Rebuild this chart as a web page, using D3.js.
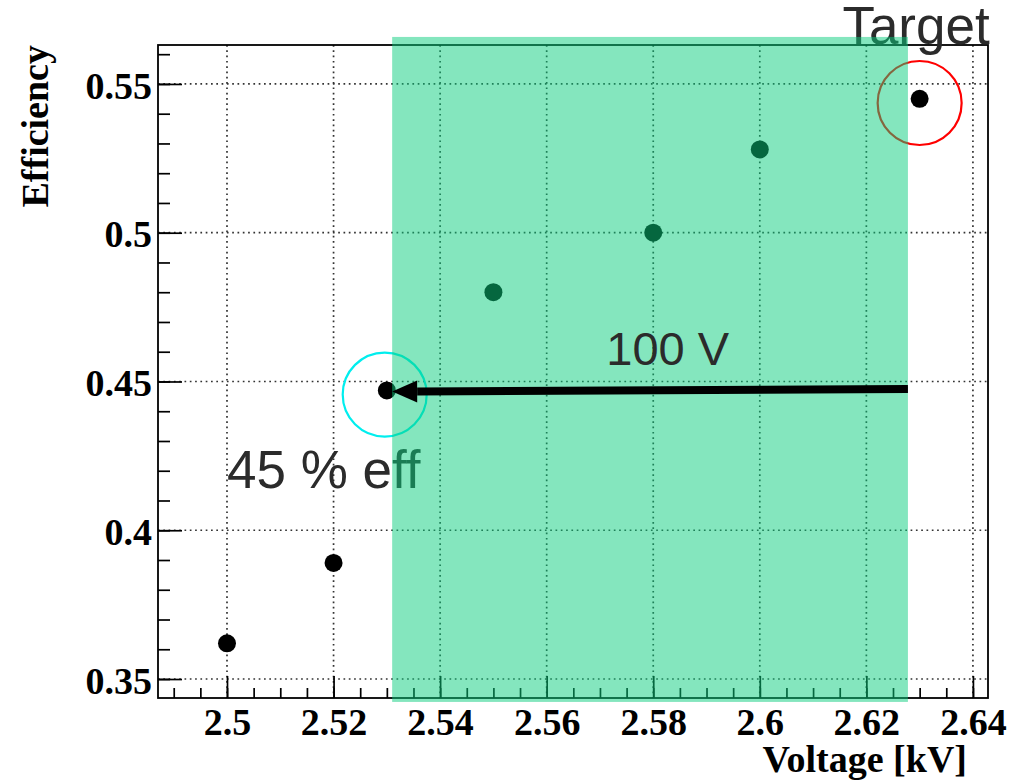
<!DOCTYPE html>
<html>
<head>
<meta charset="utf-8">
<script src="https://cdn.jsdelivr.net/npm/d3@7"></script>
<style>
  html, body { margin: 0; padding: 0; background: #fff; }
  svg { display: block; }
</style>
</head>
<body>
<svg id="chart" width="1014" height="781"></svg>
<script>
// ---- data ----
const voltage = [2.50, 2.52, 2.53, 2.55, 2.58, 2.60, 2.63];
const efficiency = [0.362, 0.389, 0.447, 0.480, 0.500, 0.528, 0.545];
const xTickValues = [2.50, 2.52, 2.54, 2.56, 2.58, 2.60, 2.62, 2.64];
const xTickLabels = ["2.5", "2.52", "2.54", "2.56", "2.58", "2.6", "2.62", "2.64"];
const yTickValues = [0.35, 0.40, 0.45, 0.50, 0.55];
const yTickLabels = ["0.35", "0.4", "0.45", "0.5", "0.55"];
const xDomain = [2.48705, 2.64283];
const yDomain = [0.34362, 0.56309];
// highlighted voltage band [x0, x1, y0, y1]
const bandRange = [2.5310, 2.6278, 0.3423, 0.5658];
// arrow from (x,y) to (x,y)
const arrowFrom = [2.6278, 0.4475];
const arrowTo = [2.5310, 0.4466];
// rings: [x, y]
const targetRing = [2.6300, 0.5436];
const effRing = [2.5296, 0.4456];
// annotations
const annotations = [
  { text: "Target", x: 2.6155, y: 0.5633, layer: "under" },
  { text: "45 % eff", x: 2.5000, y: 0.4141, layer: "under" },
  { text: "100 V", x: 2.5712, y: 0.4557, layer: "over" }
];

// ---- layout ----
const L = 158, R = 988, T = 45, B = 698;
const svg = d3.select("#chart");
const x = d3.scaleLinear().domain(xDomain).range([L, R]);
const y = d3.scaleLinear().domain(yDomain).range([B, T]);

const serif = "'Liberation Serif','Times New Roman',serif";
const sans = "'Liberation Sans',Arial,Helvetica,sans-serif";

svg.append("rect").attr("width", 1014).attr("height", 781).attr("fill", "#fff");

// grid
const grid = svg.append("g").attr("stroke", "#333").attr("stroke-width", 1.7)
  .attr("stroke-dasharray", "1.7,3.6");
grid.selectAll("line.gx").data(xTickValues.filter(v => x(v) > L && x(v) < R)).join("line")
  .attr("x1", d => x(d)).attr("x2", d => x(d)).attr("y1", T).attr("y2", B);
grid.selectAll("line.gy").data(yTickValues).join("line")
  .attr("y1", d => y(d)).attr("y2", d => y(d)).attr("x1", L).attr("x2", R);

// frame
svg.append("rect").attr("x", L).attr("y", T).attr("width", R - L).attr("height", B - T)
  .attr("fill", "none").attr("stroke", "#000").attr("stroke-width", 1.8);

// axes ticks (inward)
const xMinor = d3.range(0, 32).map(i => +(2.49 + i * 0.005).toFixed(3)).filter(v => v > xDomain[0] && v < xDomain[1]);
const yMinor = d3.range(0, 22).map(i => +(0.35 + i * 0.01).toFixed(2)).filter(v => v > yDomain[0] && v < yDomain[1]);

const ax = svg.append("g").attr("transform", `translate(0,${B})`)
  .call(d3.axisBottom(x).tickValues(xMinor).tickSizeInner(-10).tickSizeOuter(0).tickFormat(""));
const ax2 = svg.append("g").attr("transform", `translate(0,${B})`)
  .call(d3.axisBottom(x).tickValues(xTickValues).tickSizeInner(-22).tickSizeOuter(0)
    .tickFormat((d, i) => xTickLabels[i]).tickPadding(0));
const ay = svg.append("g").attr("transform", `translate(${L},0)`)
  .call(d3.axisLeft(y).tickValues(yMinor).tickSizeInner(-12).tickSizeOuter(0).tickFormat(""));
const ay2 = svg.append("g").attr("transform", `translate(${L},0)`)
  .call(d3.axisLeft(y).tickValues(yTickValues).tickSizeInner(-24).tickSizeOuter(0)
    .tickFormat((d, i) => yTickLabels[i]));
[ax, ax2, ay, ay2].forEach(g => {
  g.select(".domain").remove();
  g.selectAll(".tick line").attr("stroke", "#000").attr("stroke-width", 1.7);
});
ax2.selectAll(".tick text")
  .attr("y", 37).attr("dy", 0)
  .attr("font-family", serif).attr("font-weight", "bold").attr("font-size", 38).attr("fill", "#000");
ay2.selectAll(".tick text")
  .attr("x", -6).attr("dy", "0.37em")
  .attr("font-family", serif).attr("font-weight", "bold").attr("font-size", 38).attr("fill", "#000");

// axis titles
svg.append("text").attr("x", 967).attr("y", 772).attr("text-anchor", "end")
  .attr("font-family", serif).attr("font-weight", "bold").attr("font-size", 38)
  .text("Voltage [kV]");
svg.append("text").attr("transform", `translate(48,${T}) rotate(-90)`).attr("text-anchor", "end")
  .attr("font-family", serif).attr("font-weight", "bold").attr("font-size", 38)
  .text("Efficiency");

// markers
svg.append("g").selectAll("circle").data(voltage).join("circle")
  .attr("cx", d => x(d)).attr("cy", (d, i) => y(efficiency[i])).attr("r", 9).attr("fill", "#000");

// rings
svg.append("circle").attr("cx", x(targetRing[0])).attr("cy", y(targetRing[1])).attr("r", 42)
  .attr("fill", "none").attr("stroke", "#ff0000").attr("stroke-width", 2.2);
svg.append("circle").attr("cx", x(effRing[0])).attr("cy", y(effRing[1])).attr("r", 42)
  .attr("fill", "none").attr("stroke", "#00eeee").attr("stroke-width", 2.2);

function addText(a) {
  svg.append("text").attr("x", x(a.x)).attr("y", y(a.y))
    .attr("font-family", sans).attr("font-size", a.text === "100 V" ? 47 : 53)
    .attr("fill", "#2b2b2b").text(a.text);
}
annotations.filter(a => a.layer === "under").forEach(addText);

// band overlay
svg.append("rect")
  .attr("x", x(bandRange[0])).attr("width", x(bandRange[1]) - x(bandRange[0]))
  .attr("y", y(bandRange[3])).attr("height", y(bandRange[2]) - y(bandRange[3]))
  .attr("fill", "rgb(9,205,125)").attr("fill-opacity", 0.5);

// arrow
const ax0 = x(arrowFrom[0]), ay0 = y(arrowFrom[1]), ax1 = x(arrowTo[0]), ay1 = y(arrowTo[1]);
const ang = Math.atan2(ay1 - ay0, ax1 - ax0);
const headLen = 25, headHalf = 11;
const bx = ax1 - headLen * Math.cos(ang), by = ay1 - headLen * Math.sin(ang);
svg.append("line").attr("x1", ax0).attr("y1", ay0).attr("x2", bx).attr("y2", by)
  .attr("stroke", "#000").attr("stroke-width", 8);
svg.append("path")
  .attr("d", `M${ax1},${ay1} L${bx - headHalf * Math.sin(ang)},${by + headHalf * Math.cos(ang)} L${bx + headHalf * Math.sin(ang)},${by - headHalf * Math.cos(ang)} Z`)
  .attr("fill", "#000");

annotations.filter(a => a.layer === "over").forEach(addText);
</script>
</body>
</html>
